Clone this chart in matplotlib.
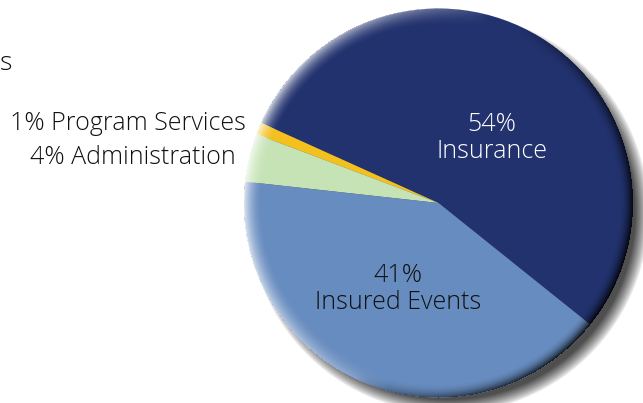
import numpy as np
import matplotlib
matplotlib.use("Agg")
import matplotlib.pyplot as plt

# data
categories = ["Insurance", "Program Services", "Administration", "Insured Events"]
values = [54, 1, 4, 41]
colors = ["#22326e", "#f4c01e", "#c6e3b6", "#678cbf"]

W, H = 643, 403
fig = plt.figure(figsize=(W / 100, H / 100), dpi=100)
ax = fig.add_axes([0, 0, 1, 1])

cx, cy, r = 438.5, 200.0, 194.5

xs = np.arange(W) + 0.5
ys = np.arange(H) + 0.5
X, Y = np.meshgrid(xs, ys)

# drop shadow (bottom-right)
ox, oy = 10, -10
dsh = np.hypot(X - (cx + ox), Y - (cy + oy))
sh_alpha = np.clip((r + 6 - dsh) / 14, 0, 1) ** 0.8 * 0.92
shadow = np.zeros((H, W, 4))
shadow[..., :3] = 0.25
shadow[..., 3] = sh_alpha
ax.imshow(shadow, extent=(0, W, 0, H), origin="lower", zorder=0, interpolation="bilinear")

ax.pie(values, colors=colors, startangle=-38.7, counterclock=True,
       center=(cx, cy), radius=r, frame=True,
       wedgeprops=dict(linewidth=0, zorder=1))
ax.set_xlim(0, W)
ax.set_ylim(0, H)
ax.set_aspect("auto")
ax.axis("off")

# bevel shading on the rim
d = np.hypot(X - cx, Y - cy)
theta = np.arctan2(Y - cy, X - cx)
inside = d <= r
tw = np.clip((d - (r - 18)) / 18, 0, 1)
tb = np.clip((d - (r - 14)) / 14, 0, 1)
hl = np.clip(np.cos(theta - np.deg2rad(165)), 0, 1) ** 0.8
dk = np.clip(np.cos(theta - np.deg2rad(-25)), 0, 1) ** 0.7
a_white = (tw ** 1.8) * hl * 0.8
a_black = (tb ** 2.0) * dk * 0.9
bevel = np.zeros((H, W, 4))
tot = a_white + a_black + 1e-9
bevel[..., :3] = (a_white / tot)[..., None]
bevel[..., 3] = np.where(inside, np.clip(a_white + a_black, 0, 1), 0)
ax.imshow(bevel, extent=(0, W, 0, H), origin="lower", zorder=2, interpolation="bilinear")

font = "Open Sans"
fw = "light"
fs = 18
tc = "#111111"
ax.text(492, H - 138, "54%\nInsurance", color="white", ha="center", va="center",
        fontsize=fs, family=font, weight=fw, linespacing=1.15, zorder=3)
ax.text(398, H - 289, "41%\nInsured Events", color=tc, ha="center", va="center",
        fontsize=fs, family=font, weight=fw, linespacing=1.15, zorder=3)
ax.text(246, H - 124, "1% Program Services", color=tc, ha="right", va="center",
        fontsize=fs, family=font, weight=fw, zorder=3)
ax.text(236, H - 157, "4% Administration", color=tc, ha="right", va="center",
        fontsize=fs, family=font, weight=fw, zorder=3)
ax.text(0, H - 64, "s", color=tc, ha="left", va="center",
        fontsize=fs + 1, family=font, weight=fw, zorder=3)

fig.savefig("out.png", dpi=100)
